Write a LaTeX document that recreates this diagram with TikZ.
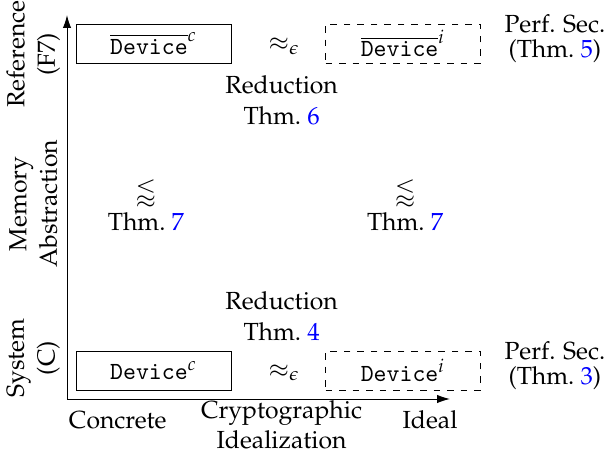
\documentclass[tikz,border=0pt]{standalone}
\usepackage[T1]{fontenc}
\usepackage{amsmath}
\usepackage{amssymb}
\usepackage{mathpazo}
\usepackage{xcolor}
\usepackage{tikz}
\usetikzlibrary{arrows.meta}

\newcommand{\thmref}[1]{Thm.~\textcolor{blue}{#1}}
\newcommand{\devname}{\mbox{\fontencoding{OT1}\fontfamily{cmtt}\selectfont Device}}

\tikzset{
  devbox/.style={draw, minimum width=2.42cm, minimum height=0.61cm, inner sep=0pt},
  idealbox/.style={devbox, dashed},
  lbl/.style={align=center, inner sep=1pt},
  perf/.style={lbl, font=\fontsize{11}{11.2}\selectfont},
  axlbl/.style={align=center, rotate=90, inner sep=1pt}
}

\begin{document}
\begin{tikzpicture}[font=\fontsize{11}{13.6}\selectfont]
        \useasboundingbox (0,0) rectangle (9.516,7.297);

        % Axes
        \coordinate (orig) at (1.047,1.0625);
        \coordinate (ytop) at (1.047,7.06);
        \coordinate (xend) at (7.03,1.0625);
        \draw[-{Latex[length=2mm,width=1.3mm]}] (orig) -- (ytop);
        \draw[-{Latex[length=2mm,width=1.3mm]}] (orig) -- (xend);

        % Boites du haut
        \node[devbox] (refc) at (2.40,6.617) {$\overline{\devname}^{c}$};
        \node[idealbox] (refi) at (6.297,6.617) {$\overline{\devname}^{i}$};
        \node (eqtop) at (4.44,6.57) {$\approx_\epsilon$};
        \node[lbl] (redtop) at (4.40,5.73) {Reduction\\ \thmref{6}};
        \node[perf] (perftop) at (8.67,6.69) {Perf. Sec.\\ (\thmref{5})};

        % Milieu
        \node[lbl] (absl) at (2.28,4.09) {$\lessapprox$\\ \thmref{7}};
        \node[lbl] (absr) at (6.33,4.09) {$\lessapprox$\\ \thmref{7}};

        % Boites du bas
        \node[devbox] (sysc) at (2.40,1.508) {$\devname^{c}$};
        \node[idealbox] (sysi) at (6.297,1.508) {$\devname^{i}$};
        \node (eqbot) at (4.44,1.47) {$\approx_\epsilon$};
        \node[lbl] (redbot) at (4.40,2.36) {Reduction\\ \thmref{4}};
        \node[perf] (perfbot) at (8.67,1.58) {Perf. Sec.\\ (\thmref{3})};

        % Etiquettes des axes
        \node (xconc) at (1.84,0.73) {Concrete};
        \node[lbl] (xcrypt) at (4.40,0.66) {Cryptographic\\ Idealization};
        \node (xideal) at (6.72,0.73) {Ideal};
        \node[axlbl] (yref) at (0.52,6.45) {Reference\\ (F7)};
        \node[axlbl] (ymem) at (0.52,4.11) {Memory\\ Abstraction};
        \node[axlbl] (ysys) at (0.52,1.70) {System\\ (C)};
    \end{tikzpicture}
\end{document}
